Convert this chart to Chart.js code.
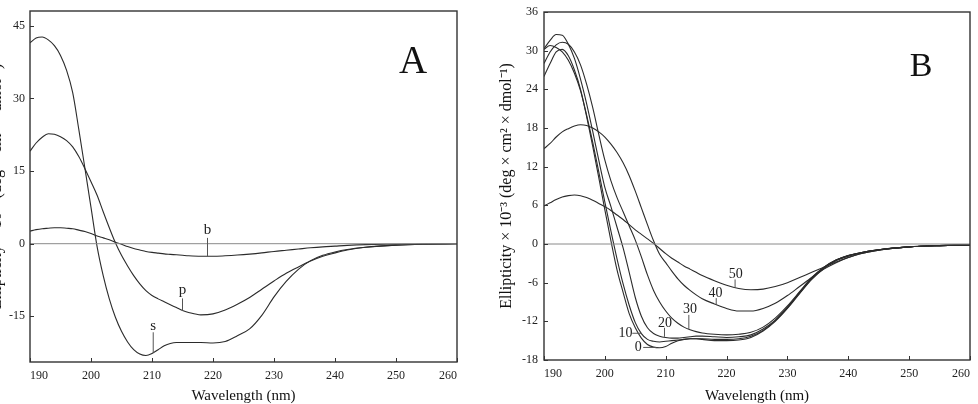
<!DOCTYPE html>
<html>
<head>
<meta charset="utf-8">
<script src="https://cdn.jsdelivr.net/npm/chart.js@4.4.0/dist/chart.umd.min.js"></script>
<style>
  html, body { margin: 0; padding: 0; background: #fff; }
  body { width: 978px; height: 404px; position: relative; overflow: hidden; }
  canvas { position: absolute; top: 0; }
  #panelA { left: -12px; }
  #panelB { left: 489px; }
</style>
</head>
<body>
<canvas id="panelA" width="501" height="404"></canvas>
<canvas id="panelB" width="489" height="404"></canvas>
<script>
// wavelengths (nm) shared by every spectrum
const wavelength = [190,191,192,193,194,195,196,197,198,199,200,201,202,203,204,205,206,207,208,209,210,211,212,213,214,215,216,218,220,222,224,226,228,230,232,234,236,238,240,242,245,250,255,260];

// panel A: s, p, b spectra (x 10^-3)
const spectrumS = [41.5,42.5,42.7,42.1,40.9,38.9,35.8,31.2,23.6,15.6,7.5,-0.6,-6.6,-11.4,-15.2,-18.1,-20.3,-21.9,-22.8,-23.1,-22.7,-21.9,-21.1,-20.6,-20.4,-20.4,-20.4,-20.4,-20.5,-20.2,-19.0,-17.6,-14.8,-11.0,-7.8,-5.3,-3.5,-2.4,-1.7,-1.2,-0.75,-0.3,-0.1,0];
const spectrumP = [19.1,20.8,22.0,22.7,22.6,22.1,21.3,20.0,18.0,15.5,12.8,10.0,6.6,3.3,0.2,-2.4,-4.6,-6.6,-8.3,-9.7,-10.7,-11.4,-12.0,-12.6,-13.2,-13.8,-14.2,-14.7,-14.5,-13.7,-12.5,-11.1,-9.4,-7.7,-6.1,-4.8,-3.6,-2.6,-1.9,-1.3,-0.75,-0.3,-0.1,0];
const spectrumB = [2.6,2.9,3.1,3.2,3.3,3.3,3.2,3.1,2.8,2.5,2.1,1.6,1.2,0.8,0.3,-0.1,-0.6,-1.0,-1.3,-1.6,-1.8,-1.95,-2.1,-2.2,-2.3,-2.4,-2.5,-2.6,-2.6,-2.5,-2.35,-2.15,-1.9,-1.6,-1.35,-1.1,-0.85,-0.65,-0.5,-0.35,-0.2,-0.1,0,0];

// panel B: series 0 .. 50
const conc0 = [26.0,28.0,29.8,30.2,29.2,27.0,24.0,19.8,15.2,10.3,5.3,0.5,-4.0,-7.5,-10.8,-13.0,-14.6,-15.6,-16.0,-16.1,-15.9,-15.4,-15.0,-14.8,-14.7,-14.7,-14.8,-15.0,-15.0,-14.9,-14.5,-13.5,-12.0,-10.0,-7.7,-5.5,-3.8,-2.6,-1.9,-1.4,-0.9,-0.45,-0.25,-0.15];
const conc10 = [30.2,30.8,30.5,29.8,28.5,26.5,23.8,20.0,15.8,11.2,6.5,2.0,-2.3,-6.2,-9.5,-12.2,-13.9,-14.8,-15.1,-15.2,-15.1,-15.0,-14.9,-14.8,-14.7,-14.7,-14.7,-14.8,-14.8,-14.7,-14.3,-13.4,-11.9,-9.9,-7.6,-5.4,-3.7,-2.5,-1.8,-1.35,-0.9,-0.45,-0.25,-0.15];
const conc20 = [30.3,31.6,32.5,32.4,31.0,28.8,25.6,21.8,17.5,13.0,8.8,5.8,2.6,-0.6,-4.4,-8.3,-11.2,-13.0,-13.9,-14.3,-14.5,-14.6,-14.6,-14.5,-14.4,-14.3,-14.3,-14.4,-14.5,-14.4,-14.1,-13.2,-11.8,-9.8,-7.5,-5.3,-3.6,-2.5,-1.8,-1.35,-0.9,-0.45,-0.25,-0.15];
const conc30 = [28.0,29.8,30.9,31.3,31.0,29.8,27.8,24.8,21.2,17.0,13.0,9.8,7.2,5.0,2.8,0.6,-2.0,-4.8,-7.2,-9.0,-10.4,-11.5,-12.3,-12.9,-13.3,-13.6,-13.8,-14.0,-14.1,-14.0,-13.7,-12.9,-11.5,-9.6,-7.4,-5.2,-3.6,-2.5,-1.8,-1.35,-0.9,-0.45,-0.25,-0.15];
const conc40 = [14.8,15.6,16.6,17.4,17.9,18.3,18.5,18.4,18.0,17.4,16.6,15.5,14.2,12.6,10.6,8.2,5.6,3.0,0.5,-1.6,-2.9,-4.2,-5.4,-6.4,-7.2,-7.9,-8.5,-9.3,-10.0,-10.4,-10.4,-10.0,-9.2,-8.0,-6.6,-5.2,-3.9,-2.9,-2.1,-1.5,-0.95,-0.45,-0.25,-0.15];
const conc50 = [5.9,6.4,6.9,7.3,7.5,7.6,7.5,7.2,6.8,6.3,5.8,5.2,4.5,3.8,3.0,2.2,1.5,0.8,0.1,-0.7,-1.5,-2.2,-2.8,-3.4,-3.9,-4.4,-4.9,-5.7,-6.4,-6.9,-7.1,-7.0,-6.6,-6.0,-5.2,-4.4,-3.6,-2.8,-2.1,-1.5,-0.95,-0.45,-0.25,-0.15];

// tick labels
const xTicks = [190,200,210,220,230,240,250,260];
const yTicksA = [-15,0,15,30,45];
const yTicksB = [-18,-12,-6,0,6,12,18,24,30,36];

const serif = '"Liberation Serif", "Times New Roman", serif';
const ink = '#2b2b2b';
const yTitle = 'Ellipticity × 10⁻³ (deg × cm² × dmol⁻¹)';

function points(values) {
  return wavelength.map((w, i) => ({ x: w, y: values[i] }));
}

function curve(values) {
  return {
    data: points(values),
    borderColor: ink,
    borderWidth: 1.1,
    pointRadius: 0,
    cubicInterpolationMode: 'monotone',
    fill: false
  };
}

function baseline() {
  return {
    data: [{ x: xTicks[0], y: 0 }, { x: xTicks[xTicks.length - 1], y: 0 }],
    borderColor: '#8a8a8a',
    borderWidth: 1,
    pointRadius: 0
  };
}

// frame, inward ticks, panel letter and curve labels
const panelMarks = {
  id: 'panelMarks',
  afterDraw(chart, args, opts) {
    const { ctx, chartArea: a, scales: { x, y } } = chart;
    ctx.save();
    ctx.strokeStyle = '#333';
    ctx.lineWidth = 1.4;
    ctx.strokeRect(a.left, a.top, a.right - a.left, a.bottom - a.top);

    ctx.lineWidth = 1;
    ctx.beginPath();
    x.ticks.forEach(t => {
      const px = Math.round(x.getPixelForValue(t.value)) + 0.5;
      ctx.moveTo(px, a.bottom);
      ctx.lineTo(px, a.bottom - 4);
    });
    y.ticks.forEach(t => {
      const py = Math.round(y.getPixelForValue(t.value)) + 0.5;
      ctx.moveTo(a.left, py);
      ctx.lineTo(a.left + 4, py);
    });
    ctx.stroke();

    ctx.fillStyle = '#111';
    ctx.textAlign = 'center';
    ctx.textBaseline = 'alphabetic';
    ctx.font = opts.letterSize + 'px ' + serif;
    ctx.fillText(opts.letter, a.right - opts.letterDx, a.top + opts.letterDy);

    ctx.font = opts.labelSize + 'px ' + serif;
    ctx.textBaseline = 'middle';
    ctx.strokeStyle = '#555';
    opts.labels.forEach(l => {
      ctx.fillStyle = '#222';
      ctx.fillText(l.text, x.getPixelForValue(l.at[0]), y.getPixelForValue(l.at[1]));
      ctx.beginPath();
      ctx.moveTo(x.getPixelForValue(l.from[0]), y.getPixelForValue(l.from[1]));
      ctx.lineTo(x.getPixelForValue(l.to[0]), y.getPixelForValue(l.to[1]));
      ctx.stroke();
    });
    ctx.restore();
  }
};

function makeChart(id, cfg) {
  return new Chart(document.getElementById(id), {
    type: 'line',
    data: { datasets: [baseline()].concat(cfg.series.map(curve)) },
    options: {
      responsive: false,
      animation: false,
      layout: { padding: { left: 0, right: cfg.padRight, top: 6, bottom: 0 } },
      plugins: {
        legend: { display: false },
        tooltip: { enabled: false },
        panelMarks: cfg.marks
      },
      scales: {
        x: {
          type: 'linear',
          min: 190,
          max: 260,
          afterBuildTicks: s => { s.ticks = xTicks.map(v => ({ value: v })); },
          afterFit: s => { s.height = cfg.xHeight; },
          grid: { display: false, drawTicks: false },
          border: { display: false },
          ticks: { align: 'inner', padding: 8, maxRotation: 0, color: '#222', font: { family: serif, size: 12, lineHeight: 1 } },
          title: { display: true, text: 'Wavelength (nm)', color: '#111', padding: 0, font: { family: serif, size: 15, lineHeight: 1 } }
        },
        y: {
          type: 'linear',
          min: cfg.yMin,
          max: cfg.yMax,
          afterBuildTicks: s => { s.ticks = cfg.yTicks.map(v => ({ value: v })); },
          afterFit: s => { s.width = cfg.yWidth; },
          grid: { display: false, drawTicks: false },
          border: { display: false },
          ticks: { padding: cfg.tickPad, color: '#222', font: { family: serif, size: 12, lineHeight: 1 } },
          title: { display: true, text: yTitle, color: '#111', padding: { top: cfg.titlePad, bottom: 0 }, font: { family: serif, size: 16, lineHeight: 1 } }
        }
      }
    },
    plugins: [panelMarks]
  });
}

makeChart('panelA', {
  series: [spectrumS, spectrumP, spectrumB],
  yMin: -24.44, yMax: 48.07, yTicks: yTicksA,
  yWidth: 42, tickPad: 5, titlePad: 1, padRight: 32, xHeight: 42,
  marks: {
    letter: 'A', letterSize: 39, letterDx: 44, letterDy: 62, labelSize: 15,
    labels: [
      { text: 'b', at: [219.1, 2.85], from: [219.1, 1.2], to: [219.1, -2.6] },
      { text: 'p', at: [215.0, -9.6], from: [215.0, -11.3], to: [215.0, -13.9] },
      { text: 's', at: [210.2, -17.0], from: [210.2, -18.3], to: [210.2, -22.6] }
    ]
  }
});

makeChart('panelB', {
  series: [conc0, conc10, conc20, conc30, conc40, conc50],
  yMin: -18, yMax: 36, yTicks: yTicksB,
  yWidth: 55, tickPad: 6, titlePad: 10, padRight: 6, xHeight: 44,
  marks: {
    letter: 'B', letterSize: 34, letterDx: 49, letterDy: 64, labelSize: 14,
    labels: [
      { text: '0', at: [205.5, -16.05], from: [206.3, -16.05], to: [208.5, -16.05] },
      { text: '10', at: [203.4, -13.85], from: [204.5, -13.85], to: [206.0, -13.85] },
      { text: '20', at: [209.9, -12.3], from: [209.8, -13.0], to: [209.8, -14.4] },
      { text: '30', at: [214.0, -10.2], from: [213.8, -11.0], to: [213.8, -13.2] },
      { text: '40', at: [218.2, -7.6], from: [218.3, -8.4], to: [218.3, -9.4] },
      { text: '50', at: [221.5, -4.7], from: [221.4, -5.5], to: [221.4, -6.8] }
    ]
  }
});
</script>
</body>
</html>
